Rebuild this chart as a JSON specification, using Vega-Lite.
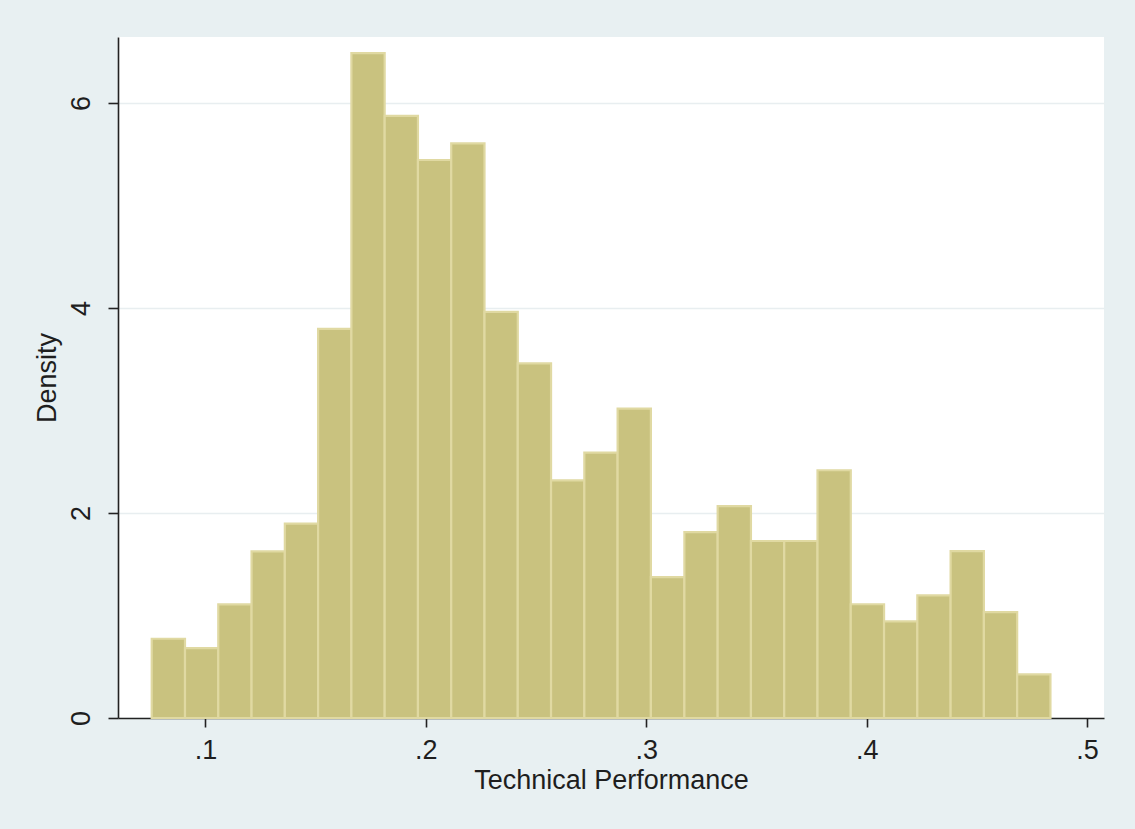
{
  "$schema": "https://vega.github.io/schema/vega-lite/v6.json",
  "autosize": {"type": "none"},
  "padding": {"left": 118, "top": 37, "right": 31, "bottom": 111},
  "width": 986,
  "height": 681,
  "background": "#e8f0f2",
  "config": {
    "view": {"fill": "white", "stroke": null},
    "font": "Liberation Sans"
  },
  "data": {
    "values": [
      {"bin_start": 0.0756, "bin_end": 0.0907, "density": 0.773},
      {"bin_start": 0.0907, "bin_end": 0.1058, "density": 0.682},
      {"bin_start": 0.1058, "bin_end": 0.1209, "density": 1.108},
      {"bin_start": 0.1209, "bin_end": 0.1360, "density": 1.626},
      {"bin_start": 0.1360, "bin_end": 0.1511, "density": 1.896},
      {"bin_start": 0.1511, "bin_end": 0.1662, "density": 3.797},
      {"bin_start": 0.1662, "bin_end": 0.1813, "density": 6.486},
      {"bin_start": 0.1813, "bin_end": 0.1964, "density": 5.874},
      {"bin_start": 0.1964, "bin_end": 0.2115, "density": 5.444},
      {"bin_start": 0.2115, "bin_end": 0.2266, "density": 5.607},
      {"bin_start": 0.2266, "bin_end": 0.2417, "density": 3.963},
      {"bin_start": 0.2417, "bin_end": 0.2568, "density": 3.459},
      {"bin_start": 0.2568, "bin_end": 0.2719, "density": 2.319},
      {"bin_start": 0.2719, "bin_end": 0.2870, "density": 2.590},
      {"bin_start": 0.2870, "bin_end": 0.3021, "density": 3.019},
      {"bin_start": 0.3021, "bin_end": 0.3173, "density": 1.375},
      {"bin_start": 0.3173, "bin_end": 0.3324, "density": 1.814},
      {"bin_start": 0.3324, "bin_end": 0.3475, "density": 2.067},
      {"bin_start": 0.3475, "bin_end": 0.3626, "density": 1.727},
      {"bin_start": 0.3626, "bin_end": 0.3777, "density": 1.727},
      {"bin_start": 0.3777, "bin_end": 0.3928, "density": 2.417},
      {"bin_start": 0.3928, "bin_end": 0.4079, "density": 1.110},
      {"bin_start": 0.4079, "bin_end": 0.4230, "density": 0.943},
      {"bin_start": 0.4230, "bin_end": 0.4381, "density": 1.196},
      {"bin_start": 0.4381, "bin_end": 0.4532, "density": 1.629},
      {"bin_start": 0.4532, "bin_end": 0.4683, "density": 1.033},
      {"bin_start": 0.4683, "bin_end": 0.4834, "density": 0.425}
    ]
  },
  "mark": {"type": "bar", "fill": "#c9c27f", "stroke": "#e0d9a2", "strokeWidth": 2.2},
  "encoding": {
    "x": {
      "field": "bin_start",
      "type": "quantitative",
      "scale": {"domain": [0.0603, 0.5077], "nice": false, "zero": false},
      "axis": {
        "title": "Technical Performance",
        "values": [0.1, 0.2, 0.3, 0.4, 0.5],
        "labelExpr": "substring(format(datum.value, '.1f'), 1)",
        "grid": false,
        "domainColor": "#222222",
        "domainWidth": 1.6,
        "tickColor": "#222222",
        "tickWidth": 1.6,
        "tickSize": 9,
        "labelFontSize": 27,
        "labelColor": "#1e1e1e",
        "labelPadding": 10,
        "labelFlush": false,
        "titleFontSize": 27,
        "titleFontWeight": "normal",
        "titleColor": "#1e1e1e",
        "titlePadding": 4
      }
    },
    "x2": {"field": "bin_end"},
    "y": {
      "field": "density",
      "type": "quantitative",
      "scale": {"domain": [0, 6.644], "nice": false},
      "axis": {
        "title": "Density",
        "values": [0, 2, 4, 6],
        "grid": true,
        "gridColor": "#e8eef0",
        "gridWidth": 1.6,
        "domainColor": "#222222",
        "domainWidth": 1.6,
        "tickColor": "#222222",
        "tickWidth": 1.6,
        "tickSize": 10,
        "labelAngle": -90,
        "labelAlign": "center",
        "labelBaseline": "bottom",
        "labelFontSize": 27,
        "labelColor": "#1e1e1e",
        "labelPadding": 13,
        "labelFlush": false,
        "titleFontSize": 27,
        "titleFontWeight": "normal",
        "titleColor": "#1e1e1e",
        "titlePadding": 6
      }
    },
    "y2": {"datum": 0}
  }
}
